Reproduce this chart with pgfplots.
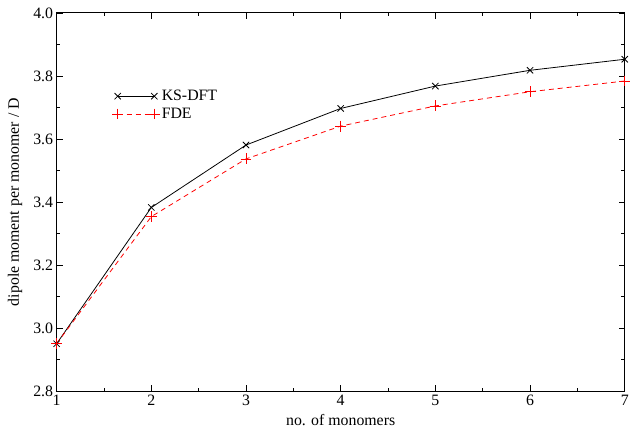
\documentclass[border=0pt]{standalone}
\usepackage{pgfplots}
\pgfplotsset{compat=1.18}
\usepackage{fontspec}
\setmainfont{Liberation Serif}
\begin{document}
\begin{tikzpicture}
\begin{axis}[
  scale only axis,
  width=572bp, height=381bp,
  clip=false,
  xmin=1, xmax=7, ymin=2.8, ymax=4.0,
  xtick={1,...,7}, minor x tick num=1,
  ytick={2.8,3.0,3.2,3.4,3.6,3.8,4.0}, minor y tick num=1,
  yticklabel style={/pgf/number format/fixed,/pgf/number format/fixed zerofill,/pgf/number format/precision=1},
  /pgf/number format/assume math mode=true,
  tick align=inside,
  major tick length=6bp, minor tick length=3.5bp,
  tick style={black, line width=0.8pt},
  axis line style={line width=0.9pt},
  ticklabel style={font=\fontsize{16}{18}\selectfont},
  xticklabel style={yshift=0bp},
  yticklabel style={xshift=0bp},
  xlabel={no. of monomers},
  ylabel={dipole moment per monomer / D},
  label style={font=\fontsize{16}{18}\selectfont},
  xlabel style={at={(axis description cs:0.5,-0.0892)}, anchor=base},
  ylabel style={at={(axis description cs:-0.0664,0.5)}, anchor=base, rotate=0},
  legend style={draw=none, fill=none, at={(axis cs:1.575,3.765)}, anchor=north west, font=\fontsize{16}{18}\selectfont, row sep=2pt, inner sep=1pt},
  legend cell align=left,
  legend image code/.code={
    \draw[#1] plot coordinates {(0cm,0cm) (1.3cm,0cm)};
  },
]
\addplot[black, line width=0.8pt, mark=x, mark size=4.5bp, mark options={solid, line width=0.8pt}] coordinates {
(1,2.951) (2,3.383) (3,3.581) (4,3.697) (5,3.768) (6,3.818) (7,3.853)};
\addlegendentry{KS-DFT}
\addplot[red, line width=0.8pt, dash pattern=on 5bp off 4bp, mark=+, mark size=5.5bp, mark options={solid, line width=0.8pt}] coordinates {
(1,2.951) (2,3.354) (3,3.537) (4,3.641) (5,3.705) (6,3.750) (7,3.784)};
\addlegendentry{FDE}
\path (rel axis cs:0,0) ++(-57bp,-37bp) (rel axis cs:1,1) ++(3bp,13bp);
\end{axis}
\end{tikzpicture}
\end{document}
